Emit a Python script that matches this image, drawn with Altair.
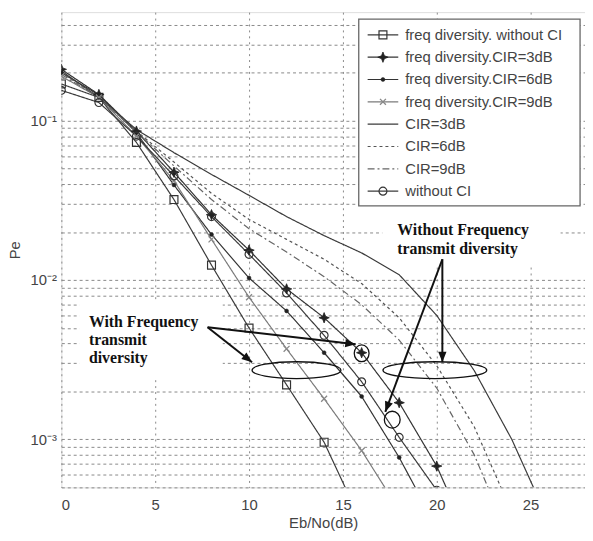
import math
import altair as alt
import pandas as pd

# ---------------- data ----------------
ebno = [0, 2, 4, 6, 8, 10, 12, 14, 16, 18, 20, 22, 24, 26]

names = [
    "freq diversity. without CI",
    "freq diversity.CIR=3dB",
    "freq diversity.CIR=6dB",
    "freq diversity.CIR=9dB",
    "CIR=3dB",
    "CIR=6dB",
    "CIR=9dB",
    "without CI",
]

fd_noci = [0.17, 0.14, 0.073, 0.032, 0.0124, 0.0050, 0.0022, 0.00096, 0.0003]
fd_cir3 = [0.21, 0.146, 0.086, 0.0475, 0.0257, 0.0154, 0.0088, 0.0058, 0.0035, 0.0017, 0.00068, 0.0002]
fd_cir6 = [0.20, 0.145, 0.084, 0.0395, 0.0193, 0.0103, 0.0064, 0.0035, 0.00186, 0.00077, 0.00028]
fd_cir9 = [0.19, 0.14, 0.080, 0.042, 0.018, 0.0078, 0.0037, 0.0018, 0.00085, 0.00036]
cir3 = [0.205, 0.14, 0.088, 0.063, 0.046, 0.034, 0.025, 0.019, 0.0148, 0.0108, 0.0060, 0.0027, 0.0010, 0.0003]
cir6 = [0.20, 0.14, 0.086, 0.055, 0.035, 0.024, 0.018, 0.0135, 0.0095, 0.0058, 0.0029, 0.0012, 0.00035]
cir9 = [0.195, 0.14, 0.085, 0.052, 0.032, 0.021, 0.015, 0.0105, 0.0070, 0.0042, 0.0021, 0.0008, 0.00022]
no_ci = [0.155, 0.13, 0.080, 0.045, 0.025, 0.0145, 0.0083, 0.0045, 0.0023, 0.00103, 0.00048, 0.00018]

series_values = [fd_noci, fd_cir3, fd_cir6, fd_cir9, cir3, cir6, cir9, no_ci]

x_ticks = [0, 5, 10, 15, 20, 25]
y_decades = [0.1, 0.01, 0.001]
y_decade_labels = ["10⁻¹", "10⁻²", "10⁻³"]

# annotations (data coordinates)
ann_text = ["With Frequency", "transmit", "diversity", "Without Frequency", "transmit diversity"]
ann_tx = [1.47, 1.47, 1.47, 17.9, 17.9]
ann_ty = [0.0051, 0.0039, 0.0030, 0.0193, 0.0145]

box_x1 = [0.95, 17.1]
box_x2 = [8.6, 26.6]
box_y1 = [0.0074, 0.031]
box_y2 = [0.00236, 0.0122]

arrow_x1 = [7.79, 7.79, 20.3, 20.3]
arrow_y1 = [0.00506, 0.00506, 0.0135, 0.0135]
arrow_x2 = [10.16, 15.68, 20.3, 17.26]
arrow_y2 = [0.00305, 0.00395, 0.00305, 0.00149]

ell_x = [12.53, 19.9, 16.0, 17.63]
ell_y = [0.00272, 0.00272, 0.00347, 0.00133]
ell_w = [90, 105, 15, 16]
ell_h = [17, 17, 17, 17]

# ---------------- geometry / style ----------------
W, H = 530, 481
XMAX = 27.9
YMIN, YMAX = 5e-4, 0.48
FONT = "Liberation Sans"
TXT = "#444444"

rows = []
for nm, vals in zip(names, series_values):
    for x, v in zip(ebno, vals):
        rows.append({"series": nm, "x": x, "y": v})
df = pd.DataFrame(rows)

star_path = "M0,-1L0.28,-0.28L1,0L0.28,0.28L0,1L-0.28,0.28L-1,0L-0.28,-0.28Z"
x_path = "M-1,-1L1,1M-1,1L1,-1"
marker_style = {
    names[0]: dict(shape="square", size=64, filled=False, stroke="#333333", strokeWidth=1.2),
    names[1]: dict(shape=star_path, size=110, filled=True, fill="#222222", stroke="#222222", strokeWidth=0.8),
    names[2]: dict(shape="circle", size=16, filled=True, fill="#222222", stroke="#222222", strokeWidth=0.5),
    names[3]: dict(shape=x_path, size=36, filled=False, stroke="#888888", strokeWidth=1.3),
    names[7]: dict(shape="circle", size=64, filled=False, stroke="#333333", strokeWidth=1.2),
}

line_colors = ["#3a3a3a", "#333333", "#333333", "#7a7a7a", "#3a3a3a", "#555555", "#666666", "#3a3a3a"]
dash_range = [[1, 0], [1, 0], [1, 0], [1, 0], [1, 0], [3, 3], [7, 3, 2, 3], [1, 0]]

xs = alt.Scale(domain=[0, XMAX], nice=False, zero=False)
ys = alt.Scale(type="log", domain=[YMIN, YMAX], nice=False)

yvals = [k * 10.0 ** e for e in (-4, -3, -2, -1) for k in range(1, 10) if YMIN <= k * 10.0 ** e <= YMAX]
label_expr = " : ".join(
    f"abs(datum.value - {v}) < {v*1e-6} ? '{lab}'" for v, lab in zip(y_decades, y_decade_labels)
) + " : ''"

color_scale = alt.Scale(domain=names, range=line_colors)
dash_scale = alt.Scale(domain=names, range=dash_range)

lines = alt.Chart(df).mark_line(clip=True, strokeWidth=1.2).encode(
    x=alt.X("x:Q", scale=xs, axis=alt.Axis(
        values=x_ticks, grid=True, gridDash=[2, 4], gridColor="#888888", gridWidth=1,
        ticks=False, domain=False, labelFont=FONT, labelFontSize=15, labelColor=TXT,
        labelPadding=10, title="Eb/No(dB)", titleFont=FONT, titleFontSize=15,
        titleFontWeight="normal", titleColor=TXT, titlePadding=4)),
    y=alt.Y("y:Q", scale=ys, axis=alt.Axis(
        values=yvals, labelExpr=label_expr, grid=True, gridDash=[3, 3], gridColor="#888888",
        gridWidth=1, ticks=False, domain=False, labelFont=FONT, labelFontSize=15,
        labelColor=TXT, labelPadding=5, labelOverlap=False, labelBound=False,
        title="Pe", titleFont=FONT, titleFontSize=15, titleFontWeight="normal",
        titleColor=TXT, titlePadding=8)),
    color=alt.Color("series:N", scale=color_scale, legend=None),
    strokeDash=alt.StrokeDash("series:N", scale=dash_scale, legend=None),
    detail="series:N",
)

point_layers = []
for nm, st in marker_style.items():
    point_layers.append(
        alt.Chart(df).transform_filter(alt.datum.series == nm)
        .mark_point(clip=True, opacity=1, **st)
        .encode(x=alt.X("x:Q", scale=xs), y=alt.Y("y:Q", scale=ys))
    )

# ---------- annotations ----------
boxes = alt.Chart(pd.DataFrame({"x1": box_x1, "x2": box_x2, "y1": box_y1, "y2": box_y2})).mark_rect(
    fill="white", stroke=None).encode(
    x=alt.X("x1:Q", scale=xs), x2="x2:Q", y=alt.Y("y1:Q", scale=ys), y2="y2:Q")

texts = alt.Chart(pd.DataFrame({"t": ann_text, "x": ann_tx, "y": ann_ty})).mark_text(
    align="left", baseline="alphabetic", font="Liberation Serif", fontWeight="bold",
    fontSize=16, color="#111111").encode(
    x=alt.X("x:Q", scale=xs), y=alt.Y("y:Q", scale=ys), text="t:N")


def px(x):
    return x / XMAX * W


def py(p):
    return H * (math.log10(YMAX) - math.log10(p)) / (math.log10(YMAX) - math.log10(YMIN))


angles = [math.degrees(math.atan2(py(b) - py(a), px(d) - px(c)))
          for c, a, d, b in zip(arrow_x1, arrow_y1, arrow_x2, arrow_y2)]
arr_df = pd.DataFrame({"x1": arrow_x1, "y1": arrow_y1, "x2": arrow_x2, "y2": arrow_y2, "ang": angles})

arrow_lines = alt.Chart(arr_df).mark_rule(color="#111111", strokeWidth=2).encode(
    x=alt.X("x1:Q", scale=xs), y=alt.Y("y1:Q", scale=ys), x2="x2:Q", y2="y2:Q")

arrow_heads = alt.Chart(arr_df).mark_point(
    shape="M0,0L-1,-0.4L-1,0.4Z", filled=True, fill="#111111", stroke=None, size=440, opacity=1).encode(
    x=alt.X("x2:Q", scale=xs), y=alt.Y("y2:Q", scale=ys), angle=alt.Angle("ang:Q", scale=None))

ell_paths = [f"M-1,0A1,{h/w:.4f} 0 1,0 1,0A1,{h/w:.4f} 0 1,0 -1,0" for w, h in zip(ell_w, ell_h)]
ell_df = pd.DataFrame({"x": ell_x, "y": ell_y, "path": ell_paths, "sz": [w * w for w in ell_w]})
ellipses = alt.Chart(ell_df).mark_point(filled=False, stroke="#111111", strokeWidth=1.3, opacity=1).encode(
    x=alt.X("x:Q", scale=xs), y=alt.Y("y:Q", scale=ys),
    shape=alt.Shape("path:N", scale=None), size=alt.Size("sz:Q", scale=None))

# ---------- legend (drawn by hand, inside the plot) ----------
LEG_TOP, LEG_STEP = 23, 22.6
leg_df = pd.DataFrame({"series": names, "row": list(range(len(names)))})
leg_base = alt.Chart(leg_df).transform_calculate(ly=f"{LEG_TOP} + datum.row * {LEG_STEP}")

leg_box = alt.Chart(pd.DataFrame({"a": [0]})).mark_rect(
    fill="white", stroke="#666666", strokeWidth=1.3).encode(
    x=alt.value(301), x2=alt.value(525), y=alt.value(7), y2=alt.value(196))

leg_lines = leg_base.mark_rule(strokeWidth=1.2).encode(
    x=alt.value(310), x2=alt.value(341), y=alt.Y("ly:Q", scale=None),
    color=alt.Color("series:N", scale=color_scale, legend=None),
    strokeDash=alt.StrokeDash("series:N", scale=dash_scale, legend=None))

leg_points = []
for nm, st in marker_style.items():
    i = names.index(nm)
    leg_points.append(
        alt.Chart(pd.DataFrame({"a": [0]})).mark_point(opacity=1, **st)
        .encode(x=alt.value(325.5), y=alt.value(LEG_TOP + i * LEG_STEP))
    )

leg_text = leg_base.mark_text(align="left", baseline="middle", font=FONT, fontSize=15, color=TXT).encode(
    x=alt.value(348), y=alt.Y("ly:Q", scale=None), text="series:N")

chart = alt.layer(
    boxes, lines, *point_layers, ellipses, arrow_lines, arrow_heads, texts,
    leg_box, leg_lines, *leg_points, leg_text,
).properties(
    width=W, height=H,
    autosize=alt.AutoSizeParams(type="none"),
    padding={"left": 54, "top": 1, "right": 0, "bottom": 43},
).configure_view(stroke="#666666", strokeWidth=1.5).configure(background="white")

chart.save("out.html", embed_options={"renderer": "svg", "actions": False})
